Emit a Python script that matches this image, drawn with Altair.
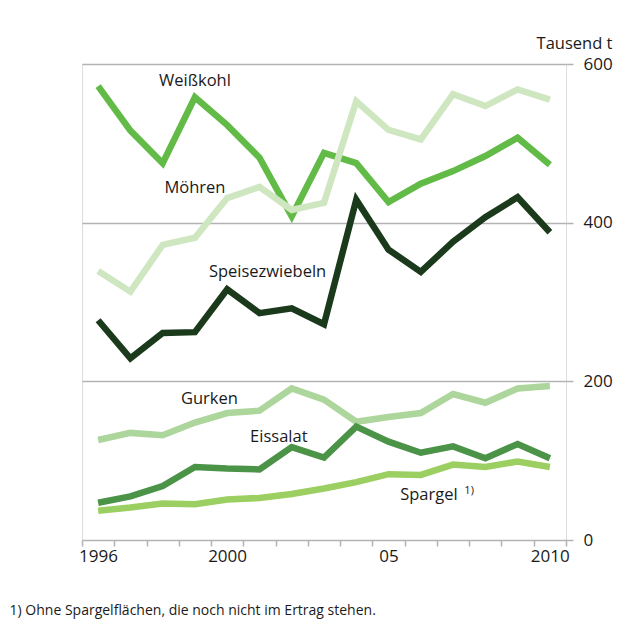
import altair as alt
import pandas as pd

years = list(range(1996, 2011))
weisskohl = [572, 516, 475, 558, 523, 482, 408, 488, 475, 426, 449, 465, 484, 507, 473]
moehren = [339, 313, 372, 381, 431, 445, 416, 425, 553, 517, 505, 562, 547, 568, 555]
zwiebeln = [277, 229, 261, 262, 316, 286, 292, 272, 429, 366, 338, 376, 407, 432, 388]
gurken = [126, 135, 132, 148, 160, 163, 191, 177, 149, 155, 160, 184, 173, 191, 194]
eissalat = [47, 55, 68, 92, 90, 89, 117, 104, 143, 124, 110, 118, 103, 121, 103]
spargel = [37, 41, 46, 45, 51, 53, 58, 65, 73, 83, 82, 95, 92, 99, 92]

series_names = ["Weißkohl", "Möhren", "Speisezwiebeln", "Gurken", "Eissalat", "Spargel"]
series_values = [weisskohl, moehren, zwiebeln, gurken, eissalat, spargel]
series_colors = ["#62bb47", "#cfe7c0", "#1b3a1c", "#acd69b", "#4a9347", "#9ccf61"]

# label annotations (year position, value position)
label_texts = ["Weißkohl", "Möhren", "Speisezwiebeln", "Gurken", "Eissalat", "Spargel"]
label_years = [1999.0, 1999.0, 2001.25, 1999.45, 2001.6, 2006.25]
label_vals = [578, 444, 338, 178, 130, 57]
sup_text = ["1)"]
sup_year = [2007.35]
sup_val = [62]

tick_label_years = [1996, 2000, 2005, 2010]
tick_label_texts = ["1996", "2000", "05", "2010"]
y_ticks = [0, 200, 400, 600]
footnote = "1) Ohne Spargelflächen, die noch nicht im Ertrag stehen."

FONT = "Open Sans"
TXT = "#1a1a1a"
GRAY = "#b3b3b3"

rows = []
for name, vals in zip(series_names, series_values):
    for yr, v in zip(years, vals):
        rows.append({"Gemüse": name, "Jahr": yr, "Wert": v, "ord": series_names.index(name)})
df = pd.DataFrame(rows)

labels = pd.DataFrame({"t": label_texts, "Jahr": label_years, "Wert": label_vals})
sup = pd.DataFrame({"t": sup_text, "Jahr": sup_year, "Wert": sup_val})

x_ticks = [y - 0.5 for y in years] + [years[-1] + 0.5]
expr_parts = ""
for yr, txt in zip(tick_label_years, tick_label_texts):
    expr_parts += f"datum.value == {yr - 0.5} ? '{txt}' : "
label_expr = expr_parts + "''"

xscale = alt.Scale(domain=[years[0] - 0.5, years[-1] + 0.5], nice=False, zero=False)
yscale = alt.Scale(domain=[0, 600], nice=False)

x_axis = alt.Axis(values=x_ticks, tickCount=40, labelExpr=label_expr, grid=False, domain=False,
                  tickSize=6, tickColor=GRAY, tickWidth=1.5, labelOffset=16,
                  labelOverlap=False, labelFlush=False, labelFontSize=17, labelFont=FONT,
                  labelColor=TXT, labelPadding=2, title=None)
y_axis = alt.Axis(orient="right", values=y_ticks, grid=True, gridColor=GRAY, gridWidth=1.5,
                  domain=False, tickSize=7, tickColor=GRAY, tickWidth=1.5,
                  labelFontSize=17, labelFont=FONT, labelColor=TXT, labelPadding=10,
                  title="Tausend t", titleAngle=0, titleAlign="right", titleX=46, titleY=-16,
                  titleBaseline="alphabetic", titleFontWeight="normal", titleFontSize=16.5,
                  titleFont=FONT, titleColor=TXT)

lines = alt.Chart(df).mark_line(strokeWidth=6.5, strokeJoin="miter", strokeCap="butt").encode(
    x=alt.X("Jahr:Q", scale=xscale, axis=x_axis),
    y=alt.Y("Wert:Q", scale=yscale, axis=y_axis),
    color=alt.Color("Gemüse:N", scale=alt.Scale(domain=series_names, range=series_colors), legend=None),
    order=alt.Order("ord:Q"),
)

text = alt.Chart(labels).mark_text(font=FONT, fontSize=16.5, color=TXT, align="center", baseline="middle").encode(
    x="Jahr:Q", y="Wert:Q", text="t:N"
)
suptext = alt.Chart(sup).mark_text(font=FONT, fontSize=11, color=TXT, align="left", baseline="middle").encode(
    x="Jahr:Q", y="Wert:Q", text="t:N"
)

chart = alt.layer(lines, text, suptext).properties(
    width=484, height=476,
    autosize=alt.AutoSizeParams(type="none"),
    padding={"left": 74, "top": 56, "right": 61, "bottom": 85},
    title=alt.TitleParams(text=footnote, orient="bottom", anchor="start", dx=-69, offset=40,
                          fontSize=14, fontWeight="normal", font=FONT, color=TXT),
).configure_view(stroke=GRAY, strokeWidth=2).configure(background="white")

chart.save("out.html", embed_options={"renderer": "svg", "actions": False})
